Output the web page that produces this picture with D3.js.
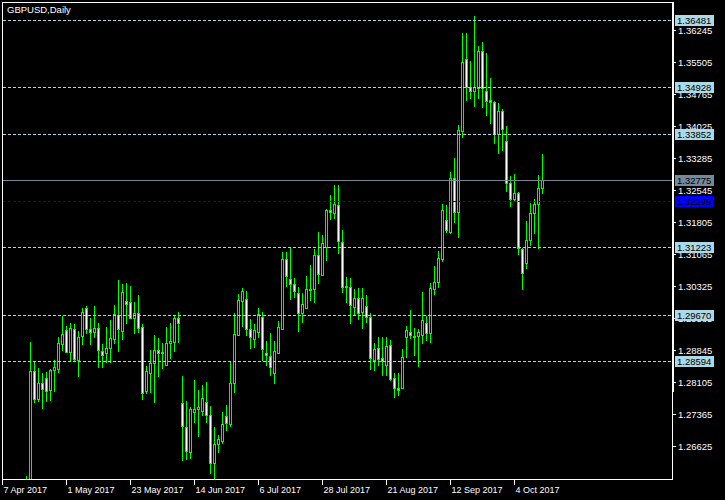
<!DOCTYPE html>
<html><head><meta charset="utf-8">
<script src="https://cdn.jsdelivr.net/npm/d3@7"></script>
<style>html,body{margin:0;padding:0;background:#000;overflow:hidden}svg{display:block}</style>
</head><body><svg id="c" width="725" height="500"></svg>
<script>
const symbolTitle = "GBPUSD,Daily";
const startDate = "2017-04-07";
const open = [
1.2480,1.2405,1.2410,1.2470,1.2520,1.2505,
1.2550,1.2565,1.28365,1.27724,1.28081,1.28203,1.27925,1.28388,1.28418,1.28989,
1.29306,1.28812,1.29329,1.28619,1.29174,1.29815,1.29329,1.29274,1.29352,1.28828,
1.28789,1.28890,1.29112,1.29660,1.29297,1.29984,1.29954,1.29584,1.29700,1.29375,
1.27895,1.28326,1.28543,1.28851,1.28775,1.28510,1.29020,1.29029,1.29584,1.27632,
1.27077,1.26499,1.27424,1.27493,1.27447,1.27655,1.27347,1.26230,1.26670,1.26746,
1.27324,1.27139,1.28095,1.29197,1.29991,1.30023,1.29336,1.29098,1.29274,1.29621,
1.28782,1.28712,1.28326,1.28775,1.29329,1.30955,1.30500,1.30371,1.30162,1.29700,
1.29829,1.30254,1.30254,1.31048,1.30585,1.31241,1.32089,1.32026,1.32204,1.31342,
1.30331,1.30301,1.29852,1.30060,1.29737,1.29875,1.29621,1.28619,1.28890,1.28659,
1.28503,1.28966,1.28196,1.27964,1.27964,1.29158,1.29274,1.29174,1.29174,1.29197,
1.29482,1.29237,1.30254,1.30430,1.30948,1.31857,1.31587,1.32822,1.32050,1.33923,
1.35574,1.34927,1.34848,1.34918,1.35766,1.34848,1.34633,1.34580,1.33847,1.34379,
1.33685,1.32706,1.32336,1.32489,1.31187,1.30856,1.31395,1.32012,1.32228,1.32591];
const high = [
1.2500,1.2425,1.2485,1.2530,1.2560,1.2550,
1.25936,1.29043,1.28580,1.28434,1.28326,1.28342,1.28418,1.28619,1.29158,1.29644,
1.29405,1.29468,1.29451,1.29297,1.29815,1.29868,1.29584,1.29868,1.29468,1.28989,
1.29389,1.29544,1.29891,1.30470,1.30377,1.30394,1.30331,1.29968,1.30122,1.29451,
1.28480,1.28851,1.29197,1.29121,1.29006,1.29389,1.29482,1.29660,1.29737,1.28249,
1.27678,1.27539,1.28157,1.27925,1.28041,1.28111,1.27555,1.27077,1.26884,1.27417,
1.27578,1.28580,1.29700,1.30145,1.30278,1.30215,1.29560,1.29451,1.29829,1.29730,
1.29059,1.29237,1.29059,1.29528,1.31111,1.31125,1.31217,1.30516,1.30315,1.30162,
1.30562,1.30816,1.31187,1.31573,1.31510,1.32105,1.32436,1.32667,1.32667,1.31626,
1.30546,1.30509,1.30254,1.30278,1.30278,1.30122,1.29700,1.29006,1.29158,1.29158,
1.29158,1.29082,1.28326,1.28312,1.28867,1.29405,1.29776,1.29352,1.29329,1.30192,
1.29637,1.30394,1.30793,1.31148,1.32228,1.32204,1.32961,1.33298,1.34055,1.36190,
1.36190,1.35542,1.36576,1.35882,1.35975,1.35713,1.35135,1.34617,1.34557,1.34418,
1.34032,1.32875,1.32921,1.32512,1.31203,1.31841,1.32244,1.32336,1.32898,1.33384];
const low = [
1.2365,1.2365,1.2400,1.2450,1.2490,1.2500,
1.2530,1.2515,1.27655,1.27678,1.27516,1.27678,1.27694,1.27909,1.28349,1.28851,
1.28798,1.28619,1.28603,1.28249,1.28989,1.29251,1.28989,1.29158,1.28450,1.28450,
1.28580,1.28580,1.29020,1.28835,1.29105,1.29468,1.29584,1.29237,1.29274,1.27710,
1.27849,1.27886,1.27655,1.28249,1.28427,1.28503,1.28673,1.28835,1.29043,1.26306,
1.26329,1.26360,1.27193,1.26868,1.27347,1.27193,1.25999,1.25890,1.26499,1.26707,
1.27000,1.27100,1.27886,1.29197,1.29405,1.29197,1.28904,1.28913,1.29158,1.28619,
1.28503,1.28272,1.28081,1.28775,1.29329,1.30338,1.30023,1.30069,1.29297,1.29505,
1.29829,1.30007,1.29968,1.30394,1.30585,1.30932,1.31873,1.31897,1.31101,1.30199,
1.29968,1.29482,1.29660,1.29575,1.29352,1.29505,1.28411,1.28388,1.28503,1.28272,
1.28272,1.28157,1.27771,1.27810,1.27964,1.28696,1.29121,1.28735,1.28480,1.29020,
1.29082,1.29043,1.30146,1.30301,1.30916,1.31587,1.31564,1.31818,1.31471,1.33784,
1.34633,1.34672,1.34494,1.34672,1.34478,1.34286,1.34094,1.33632,1.33414,1.33477,
1.32535,1.32188,1.32290,1.31064,1.30254,1.30740,1.31279,1.31550,1.31203,1.32475];
const close = [
1.2405,1.2410,1.2470,1.2520,1.2505,1.2550,
1.2565,1.28365,1.27724,1.28081,1.27956,1.27909,1.28388,1.28450,1.29006,1.29220,
1.28812,1.29359,1.28636,1.29158,1.29723,1.29329,1.29274,1.29359,1.28851,1.28742,
1.28890,1.29121,1.29677,1.29329,1.30185,1.29908,1.29584,1.29700,1.29366,1.27849,
1.28358,1.28543,1.28851,1.28775,1.28805,1.29006,1.29059,1.29584,1.29468,1.27100,
1.26522,1.27479,1.27486,1.27539,1.27733,1.27340,1.26230,1.26676,1.26785,1.27139,
1.27170,1.28081,1.29220,1.30007,1.30215,1.29336,1.29158,1.29313,1.29677,1.28867,
1.28742,1.28450,1.28828,1.29389,1.30955,1.30555,1.30371,1.30215,1.29700,1.29914,
1.30254,1.30238,1.31048,1.30609,1.31319,1.32089,1.32035,1.32228,1.31379,1.30315,
1.30301,1.29898,1.30053,1.29714,1.30046,1.29607,1.28659,1.28867,1.28636,1.28603,
1.28943,1.28173,1.27964,1.27925,1.28682,1.29313,1.29197,1.29144,1.29274,1.29544,
1.29237,1.30278,1.30430,1.30971,1.32089,1.31626,1.32822,1.32050,1.33939,1.35505,
1.34927,1.34848,1.34934,1.35766,1.34918,1.34617,1.34580,1.33847,1.34379,1.33955,
1.32706,1.32336,1.32475,1.31203,1.30624,1.31395,1.32026,1.32228,1.32591,1.32775];

const dateTickLabels = ["7 Apr 2017","1 May 2017","23 May 2017","14 Jun 2017","6 Jul 2017","28 Jul 2017","21 Aug 2017","12 Sep 2017","4 Oct 2017"];
const priceTicks = [1.26625,1.27365,1.28105,1.28845,1.29585,1.30325,1.31065,1.31805,1.32545,1.33285,1.34025,1.34765,1.35505,1.36245];
const levelValues = [1.36481,1.34928,1.33852,1.31223,1.29670,1.28594];
const bidValue = 1.32775;
const blueLevel = 1.32299;

// trading-day categories (weekdays from the start date)
const dates = [];
{ let d = new Date(startDate + "T00:00:00Z");
  while (dates.length < open.length) {
    const wd = d.getUTCDay();
    if (wd !== 0 && wd !== 6) dates.push(d.toISOString().slice(0,10));
    d = new Date(d.getTime() + 86400000);
  } }
const bars = dates.map((d,i)=>({d, o:open[i], h:high[i], l:low[i], c:close[i]}));
const fmt = d3.utcFormat("%-d %b %Y");
const tickDates = dates.filter(d => dateTickLabels.includes(fmt(new Date(d+"T00:00:00Z"))));

const W = 725, H = 500;
const L = 2, T = 2, R = 672, B = 479;
const x = d3.scalePoint().domain(dates).range([2, 2 + 4*(dates.length-1)]);
const y = d3.scaleLinear().domain([1.25381, 1.36946]).range([500, 0]);
const py = v => Math.round(y(v));

const FONT = "'Liberation Sans', Arial, sans-serif";
const svg = d3.select("#c");
svg.append("rect").attr("width",W).attr("height",H).attr("fill","#000");

svg.append("defs").append("clipPath").attr("id","clip")
  .append("rect").attr("x",L+1).attr("y",T+1).attr("width",R-L-1).attr("height",B-T-1);

const plot = svg.append("g").attr("clip-path","url(#clip)");
const GREEN = "#00ff00";

// candles
const cg = plot.append("g");
bars.forEach(b => {
  const cx = x(b.d);
  const yh = py(b.h), yl = py(b.l);
  cg.append("rect").attr("x",cx).attr("y",yh).attr("width",1).attr("height",Math.max(1,yl-yh+1)).attr("fill",GREEN);
  const top = py(Math.max(b.o,b.c)), bot = py(Math.min(b.o,b.c));
  const hh = bot - top + 1;
  cg.append("rect").attr("x",cx-1).attr("y",top).attr("width",3).attr("height",hh).attr("fill",GREEN);
  if (hh > 2) {
    cg.append("rect").attr("x",cx).attr("y",top+1).attr("width",1).attr("height",hh-2)
      .attr("fill", b.c < b.o ? "#ffffff" : "#000000");
  }
});

// level lines
const lg = plot.append("g");
levelValues.forEach(v => {
  lg.append("line").attr("x1",L+1).attr("x2",R).attr("y1",py(v)+0.5).attr("y2",py(v)+0.5)
    .attr("stroke","#add8e6").attr("stroke-width",1).attr("stroke-dasharray","3,2");
});
lg.append("line").attr("x1",L+1).attr("x2",R).attr("y1",py(blueLevel)+0.5).attr("y2",py(blueLevel)+0.5)
  .attr("stroke","#0000ff").attr("stroke-dasharray","3,2");
lg.append("line").attr("x1",L+1).attr("x2",R).attr("y1",py(bidValue)+0.5).attr("y2",py(bidValue)+0.5)
  .attr("stroke","#778899");

// frame
svg.append("rect").attr("x",L+0.5).attr("y",T+0.5).attr("width",R-L).attr("height",B-T)
  .attr("fill","none").attr("stroke","#fff");
svg.append("rect").attr("x",R).attr("y",T).attr("width",2).attr("height",390).attr("fill","#fff");

// price axis
const ya = svg.append("g").attr("transform",`translate(${R+1},0)`)
  .call(d3.axisRight(y).tickValues(priceTicks).tickFormat(d3.format(".5f")).tickSize(3).tickPadding(2));
ya.select(".domain").remove();
ya.selectAll(".tick").attr("transform", d => `translate(0,${py(d)+0.5})`);
ya.selectAll(".tick line").attr("stroke","#fff");
ya.selectAll(".tick text").attr("fill","#fff").attr("font-family",FONT).attr("font-size","9.5px").attr("dy","0.35em");

// date axis
const xa = svg.append("g").attr("transform",`translate(0,${B+1})`)
  .call(d3.axisBottom(x).tickValues(tickDates).tickFormat((d,i)=>dateTickLabels[i]).tickSize(5));
xa.select(".domain").remove();
xa.selectAll(".tick").attr("transform", d => `translate(${x(d)+0.5},${B+1})`);
xa.attr("transform",null);
xa.selectAll(".tick line").attr("stroke","#fff");
xa.selectAll(".tick text").attr("fill","#fff").attr("font-family",FONT).attr("font-size","9px")
  .attr("text-anchor","start").attr("x",1).attr("y",13).attr("dy",null);

// price labels for levels
const labels = levelValues.map(v=>({v, bg:"#add8e6", fg:"#000"}))
  .concat([{v:bidValue,bg:"#778899",fg:"#000"},{v:blueLevel,bg:"#0000ff",fg:"#000"}]);
const lb = svg.append("g");
labels.forEach(o => {
  const yy = py(o.v);
  lb.append("rect").attr("x",675).attr("y",yy-5).attr("width",39).attr("height",11).attr("fill",o.bg);
  lb.append("text").attr("x",677).attr("y",yy+0.5).attr("dy","0.35em").attr("fill",o.fg)
    .attr("font-family",FONT).attr("font-size","9.5px").text(d3.format(".5f")(o.v));
});

// title
svg.append("text").attr("x",7).attr("y",13).attr("fill","#fff").attr("font-family",FONT)
  .attr("font-size","9.5px").text(symbolTitle);
</script></body></html>
